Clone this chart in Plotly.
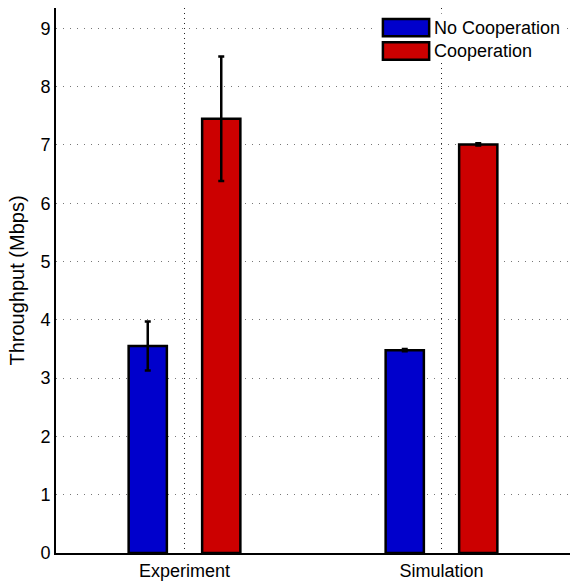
import plotly.graph_objects as go

categories = ["Experiment", "Simulation"]
series_names = ["No Cooperation", "Cooperation"]
no_coop = [3.55, 3.48]
no_coop_err = [0.42, 0.02]
coop = [7.45, 7.01]
coop_err = [1.07, 0.02]
colors = ["#0000CC", "#CC0000"]
y_ticks = [0, 1, 2, 3, 4, 5, 6, 7, 8, 9]

fig = go.Figure()
for name, vals, errs, col in [
    (series_names[0], no_coop, no_coop_err, colors[0]),
    (series_names[1], coop, coop_err, colors[1]),
]:
    fig.add_trace(go.Bar(
        x=categories, y=vals, name=name,
        marker=dict(color=col, line=dict(color="black", width=2.5)),
        error_y=dict(type="data", array=errs, visible=True, color="black",
                     thickness=2.5, width=3),
        showlegend=False,
    ))

# Legend drawn manually (large swatches like the reference)
legend_x0, legend_x1 = 0.636, 0.726
legend_rows = [(0.980, 0.948), (0.937, 0.905)]
fig.add_shape(type="rect", xref="paper", yref="paper", x0=0.625, x1=0.988,
              y0=0.900, y1=0.990, fillcolor="white", line=dict(width=0),
              layer="above")
for (ya, yb), name, col in zip(legend_rows, series_names, colors):
    fig.add_shape(type="rect", xref="paper", yref="paper", x0=legend_x0,
                  x1=legend_x1, y0=yb, y1=ya, fillcolor=col,
                  line=dict(color="black", width=2.5), layer="above")
    fig.add_annotation(xref="paper", yref="paper", x=legend_x1 + 0.006,
                       y=(ya + yb) / 2, text=name, showarrow=False,
                       xanchor="left", yanchor="middle",
                       font=dict(size=18, color="black"))

font_family = "Liberation Sans, Arial, sans-serif"
fig.update_layout(
    width=572, height=586,
    margin=dict(l=56, r=2, t=8, b=33),
    paper_bgcolor="white", plot_bgcolor="white",
    barmode="group", bargap=0.428, bargroupgap=0.48,
    font=dict(family=font_family, size=18, color="black"),
    showlegend=False,
    xaxis=dict(type="category", range=[-0.5, 1.5], showline=True,
               linecolor="black", linewidth=2, showgrid=True,
               gridcolor="#222", griddash="1px,4px", gridwidth=1, ticks="",
               zeroline=False, mirror=False),
    yaxis=dict(range=[0, 9.35], tickvals=y_ticks, showline=True,
               linecolor="black", linewidth=2, showgrid=True,
               gridcolor="#777", griddash="1px,6px", gridwidth=1, ticks="",
               zeroline=False,
               title=dict(text="Throughput (Mbps)", font=dict(size=20), standoff=10)),
)

fig.write_html("out.html")
